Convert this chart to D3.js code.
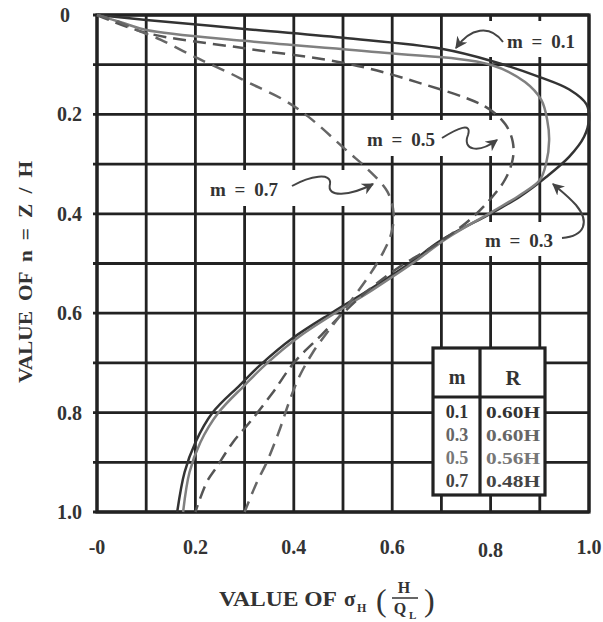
<!DOCTYPE html>
<html>
<head>
<meta charset="utf-8">
<script src="https://cdn.jsdelivr.net/npm/d3@7"></script>
<style>
  body { margin: 0; background: #fff; }
  text { font-family: "Liberation Serif", "DejaVu Serif", serif; font-weight: bold; fill: #333; }
</style>
</head>
<body>
<svg id="chart" width="603" height="622"></svg>
<script>
// curves: [sigma_H * H/Q_L, n = Z/H]
const curveM01 = [[0,0],[0.1,0.01],[0.3,0.028],[0.5,0.046],[0.7,0.068],[0.8,0.092],[0.9,0.125],[0.96,0.15],[0.995,0.18],[1.0,0.21],[0.99,0.245],[0.96,0.285],[0.913,0.326],[0.86,0.365],[0.803,0.398],[0.70,0.453],[0.635,0.5],[0.55,0.555],[0.479,0.598],[0.398,0.65],[0.331,0.705],[0.29,0.745],[0.235,0.80],[0.2,0.86],[0.178,0.92],[0.163,1.0]];
const curveM03 = [[0,0],[0.05,0.015],[0.1,0.03],[0.3,0.052],[0.584,0.076],[0.8,0.1],[0.87,0.135],[0.903,0.171],[0.915,0.211],[0.919,0.252],[0.913,0.298],[0.9,0.332],[0.86,0.362],[0.803,0.396],[0.71,0.45],[0.645,0.497],[0.56,0.553],[0.49,0.596],[0.41,0.648],[0.343,0.703],[0.30,0.745],[0.247,0.80],[0.21,0.86],[0.188,0.92],[0.175,1.0]];
const curveM05 = [[0,0],[0.1,0.036],[0.3,0.067],[0.505,0.097],[0.65,0.135],[0.79,0.185],[0.83,0.22],[0.845,0.255],[0.845,0.29],[0.83,0.33],[0.80,0.37],[0.76,0.41],[0.70,0.455],[0.61,0.51],[0.55,0.555],[0.50,0.6],[0.455,0.645],[0.40,0.70],[0.357,0.76],[0.31,0.82],[0.276,0.86],[0.243,0.91],[0.223,0.94],[0.2,1.0]];
const curveM07 = [[0,0],[0.04,0.012],[0.08,0.03],[0.13,0.05],[0.2,0.085],[0.27,0.117],[0.31,0.137],[0.38,0.171],[0.43,0.205],[0.51,0.275],[0.55,0.31],[0.59,0.355],[0.603,0.40],[0.598,0.44],[0.583,0.475],[0.556,0.52],[0.52,0.57],[0.49,0.61],[0.467,0.64],[0.438,0.68],[0.41,0.73],[0.39,0.78],[0.371,0.835],[0.345,0.90],[0.325,0.94],[0.30,1.0]];

const xTicks = [0, 0.2, 0.4, 0.6, 0.8, 1.0];
const xTickLabels = ['-0', '0.2', '0.4', '0.6', '0.8', '1.0'];
const yTicks = [0, 0.2, 0.4, 0.6, 0.8, 1.0];
const yTickLabels = ['0', '0.2', '0.4', '0.6', '0.8', '1.0'];

const tableM = ['0.1', '0.3', '0.5', '0.7'];
const tableR = ['0.60H', '0.60H', '0.56H', '0.48H'];

const svg = d3.select('#chart');
const x = d3.scaleLinear().domain([0, 1]).range([97, 589]);
const y = d3.scaleLinear().domain([0, 1]).range([15, 512]);
const ink = '#222';

// grid
const grid = svg.append('g').attr('stroke', ink).attr('stroke-width', 2.8);
const steps = d3.range(0, 11).map(i => i / 10);
grid.selectAll('.gv').data(steps).enter().append('line')
  .attr('x1', d => x(d)).attr('x2', d => x(d))
  .attr('y1', y(0)).attr('y2', y(1));
grid.selectAll('.gh').data(steps).enter().append('line')
  .attr('x1', x(0) - 4).attr('x2', x(1))
  .attr('y1', d => y(d)).attr('y2', d => y(d));

// white patches behind the labels (grid is broken there)
const patches = [[482, 21, 105, 36], [362, 120, 138, 36], [205, 170, 172, 36], [480, 222, 106, 34]];
svg.selectAll('.patch').data(patches).enter().append('rect')
  .attr('x', d => d[0]).attr('y', d => d[1]).attr('width', d => d[2]).attr('height', d => d[3])
  .attr('fill', '#fff');

// frame
svg.append('rect').attr('x', x(0)).attr('y', y(0))
  .attr('width', x(1) - x(0)).attr('height', y(1) - y(0))
  .attr('fill', 'none').attr('stroke', ink).attr('stroke-width', 3.2);

// curves
const line = d3.line().x(d => x(d[0])).y(d => y(d[1])).curve(d3.curveCatmullRom.alpha(0.5));
const series = [
  { data: curveM01, color: '#333', dash: null },
  { data: curveM03, color: '#808080', dash: null },
  { data: curveM05, color: '#555', dash: '13,7' },
  { data: curveM07, color: '#666', dash: '13,8' },
];
svg.selectAll('.curve').data(series).enter().append('path')
  .attr('class', 'curve')
  .attr('d', d => line(d.data))
  .attr('fill', 'none')
  .attr('stroke', d => d.color)
  .attr('stroke-width', 2.5)
  .attr('stroke-dasharray', d => d.dash);

// arrows
const defs = svg.append('defs');
defs.append('marker').attr('id', 'ah').attr('viewBox', '0 0 10 10')
  .attr('refX', 9).attr('refY', 5).attr('markerWidth', 6).attr('markerHeight', 6)
  .attr('orient', 'auto-start-reverse')
  .append('path').attr('d', 'M0,0 L10,5 L0,10 L3,5 Z').attr('fill', '#444');

const arrows = [
  'M503,42 C490,24 470,28 456,48',
  'M442,138 C458,128 472,122 468,135 C462,150 478,154 497,140',
  'M292,186 C310,176 332,172 330,184 C326,198 350,196 373,184',
  'M562,238 C585,236 590,222 576,205 C568,196 560,190 553,184',
];
svg.selectAll('.arrow').data(arrows).enter().append('path')
  .attr('d', d => d).attr('fill', 'none').attr('stroke', '#444')
  .attr('stroke-width', 2).attr('marker-end', 'url(#ah)');

const labels = [
  { t: 'm = 0.1', x: 507, y: 48 },
  { t: 'm = 0.5', x: 367, y: 146 },
  { t: 'm = 0.7', x: 210, y: 196 },
  { t: 'm = 0.3', x: 485, y: 247 },
];
svg.selectAll('.lab').data(labels).enter().append('text')
  .attr('x', d => d.x).attr('y', d => d.y)
  .attr('font-size', 19).attr('word-spacing', 4)
  .text(d => d.t);

// table
const tb = svg.append('g');
tb.append('rect').attr('x', 433).attr('y', 348).attr('width', 112).attr('height', 147)
  .attr('fill', '#fff').attr('stroke', ink).attr('stroke-width', 3.2);
tb.append('line').attr('x1', 433).attr('x2', 545).attr('y1', 397).attr('y2', 397)
  .attr('stroke', ink).attr('stroke-width', 3.2);
tb.append('line').attr('x1', 480).attr('x2', 480).attr('y1', 348).attr('y2', 495)
  .attr('stroke', ink).attr('stroke-width', 3.2);
tb.append('text').attr('x', 457).attr('y', 384).attr('text-anchor', 'middle')
  .attr('font-size', 20).text('m');
tb.append('text').attr('x', 513).attr('y', 385).attr('text-anchor', 'middle')
  .attr('font-size', 21).text('R');
const rowColors = ['#333', '#666', '#777', '#444'];
tb.selectAll('.tm').data(tableM).enter().append('text')
  .attr('x', 457).attr('y', (d, i) => 418 + i * 23)
  .attr('text-anchor', 'middle').attr('font-size', 18)
  .style('fill', (d, i) => rowColors[i]).text(d => d);
tb.selectAll('.tr').data(tableR).enter().append('text')
  .attr('x', 486).attr('y', (d, i) => 418 + i * 23)
  .attr('font-size', 16).attr('textLength', 54).attr('lengthAdjust', 'spacingAndGlyphs')
  .style('fill', (d, i) => rowColors[i]).text(d => d);

// tick labels
svg.selectAll('.yt').data(yTicks).enter().append('text')
  .attr('x', d => d === 0 ? 60 : 57).attr('y', d => y(d) + 7)
  .attr('font-size', 20)
  .text((d, i) => yTickLabels[i]);
svg.selectAll('.xt').data(xTicks).enter().append('text')
  .attr('x', d => x(d)).attr('y', d => d === 0.8 ? 557 : 554)
  .attr('text-anchor', 'middle').attr('font-size', 20)
  .text((d, i) => xTickLabels[i]);

// axis titles
svg.append('text').attr('transform', 'translate(32,272) rotate(-90)')
  .attr('text-anchor', 'middle').attr('font-size', 18).attr('word-spacing', 4)
  .attr('textLength', 222).attr('lengthAdjust', 'spacingAndGlyphs')
  .text('VALUE OF n = Z / H');

const xt = svg.append('g');
xt.append('text').attr('x', 219).attr('y', 606).attr('font-size', 20)
  .attr('textLength', 118).attr('lengthAdjust', 'spacingAndGlyphs').text('VALUE OF');
xt.append('text').attr('x', 344).attr('y', 606).attr('font-size', 21).text('σ');
xt.append('text').attr('x', 357).attr('y', 612).attr('font-size', 12).text('H');
xt.append('text').attr('x', 376).attr('y', 611).attr('font-size', 32).style('font-weight', 'normal').text('(');
xt.append('text').attr('x', 404).attr('y', 593).attr('text-anchor', 'middle').attr('font-size', 16).text('H');
xt.append('line').attr('x1', 392).attr('x2', 418).attr('y1', 598).attr('y2', 598)
  .attr('stroke', '#333').attr('stroke-width', 1.5);
xt.append('text').attr('x', 400).attr('y', 614).attr('text-anchor', 'middle').attr('font-size', 16).text('Q');
xt.append('text').attr('x', 409).attr('y', 619).attr('font-size', 11).text('L');
xt.append('text').attr('x', 424).attr('y', 611).attr('font-size', 32).style('font-weight', 'normal').text(')');
</script>
</body>
</html>
